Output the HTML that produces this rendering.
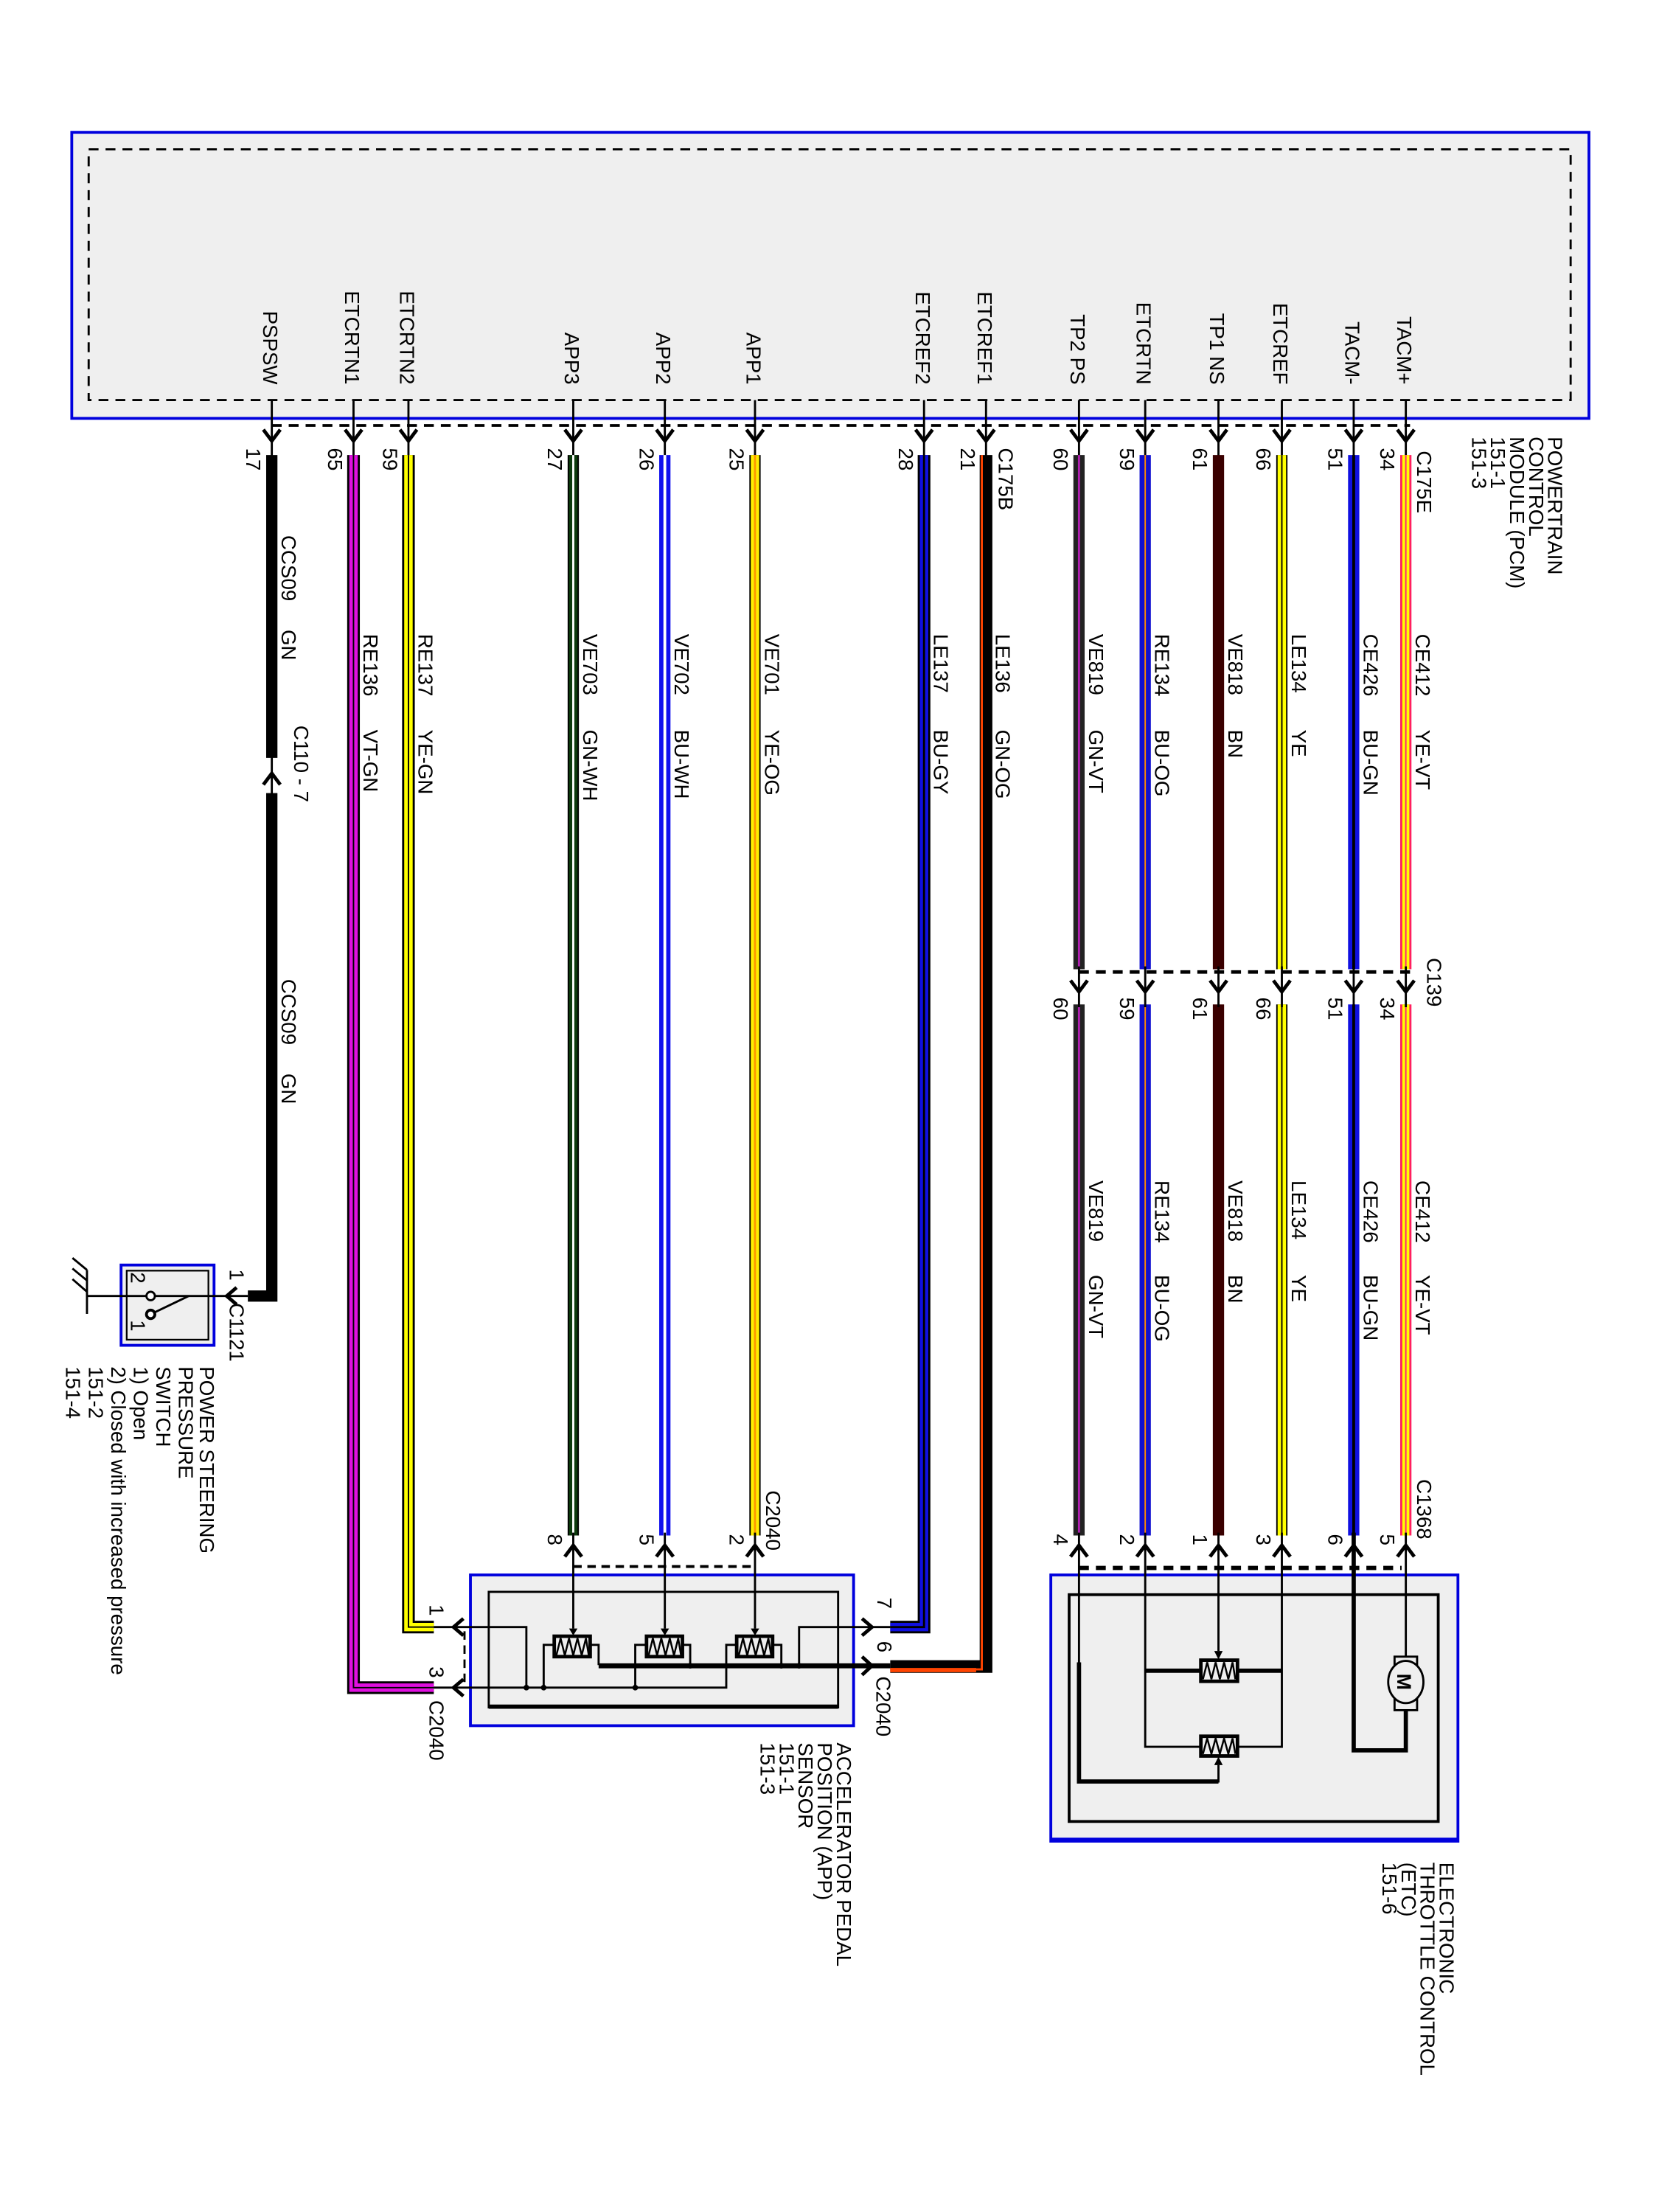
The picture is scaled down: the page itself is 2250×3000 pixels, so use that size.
<!DOCTYPE html>
<html><head><meta charset="utf-8"><style>
html,body{margin:0;padding:0;background:#fff;}
svg{display:block;}
text{font-family:"Liberation Sans",Arial,sans-serif;font-size:14.5px;fill:#000;}
</style></head><body>
<svg width="2250" height="3000" viewBox="0 0 1160 1546.67" xmlns="http://www.w3.org/2000/svg">
<g transform="translate(2.9,0) scale(0.985)">
<!-- PCM -->
<rect x="48" y="94" width="1077" height="203" fill="#efefef" stroke="#0000dd" stroke-width="2"/>
<rect x="60" y="106" width="1052" height="178" fill="none" stroke="#000" stroke-width="1.5" stroke-dasharray="7,5"/>
<line x1="190" y1="302" x2="998" y2="302" stroke="#000" stroke-width="2" stroke-dasharray="7,5"/>

<!-- PCM pin labels -->
<g text-anchor="end">
<text transform="translate(184,273) rotate(90)">PSPSW</text>
<text transform="translate(242,273) rotate(90)">ETCRTN1</text>
<text transform="translate(281,273) rotate(90)">ETCRTN2</text>
<text transform="translate(398,273) rotate(90)">APP3</text>
<text transform="translate(463,273) rotate(90)">APP2</text>
<text transform="translate(527,273) rotate(90)">APP1</text>
<text transform="translate(647,273) rotate(90)">ETCREF2</text>
<text transform="translate(691,273) rotate(90)">ETCREF1</text>
<text transform="translate(757,273) rotate(90)">TP2 PS</text>
<text transform="translate(804,273) rotate(90)">ETCRTN</text>
<text transform="translate(856,273) rotate(90)">TP1 NS</text>
<text transform="translate(901,273) rotate(90)">ETCREF</text>
<text transform="translate(952,273) rotate(90)">TACM-</text>
<text transform="translate(989,273) rotate(90)">TACM+</text>
</g>

<!-- thin pin lines + chevrons at PCM -->
<g stroke="#000" stroke-width="1.5" fill="none">
<path d="M190 284V325M248 284V325M287 284V325M404 284V325M469 284V325M533 284V325M653 284V325M697 284V325M763 284V325M810 284V325M862 284V325M907 284V325M958 284V325M995 284V325"/>
</g>
<g stroke="#000" stroke-width="2.5" fill="none" stroke-linejoin="miter">
<path d="M184 305L190 313L196 305M242 305L248 313L254 305M281 305L287 313L293 305M398 305L404 313L410 305M463 305L469 313L475 305M527 305L533 313L539 305M647 305L653 313L659 305M691 305L697 313L703 305M757 305L763 313L769 305M804 305L810 313L816 305M856 305L862 313L868 305M901 305L907 313L913 305M952 305L958 313L964 305M989 305L995 313L1001 305"/>
</g>

<!-- pin numbers at PCM -->
<g>
<text transform="translate(172,318) rotate(90)">17</text>
<text transform="translate(230,318) rotate(90)">65</text>
<text transform="translate(269,318) rotate(90)">59</text>
<text transform="translate(386,318) rotate(90)">27</text>
<text transform="translate(451,318) rotate(90)">26</text>
<text transform="translate(515,318) rotate(90)">25</text>
<text transform="translate(635,318) rotate(90)">28</text>
<text transform="translate(679,318) rotate(90)">21</text>
<text transform="translate(745,318) rotate(90)">60</text>
<text transform="translate(792,318) rotate(90)">59</text>
<text transform="translate(844,318) rotate(90)">61</text>
<text transform="translate(889,318) rotate(90)">66</text>
<text transform="translate(940,318) rotate(90)">51</text>
<text transform="translate(977,318) rotate(90)">34</text>
<text transform="translate(1003,320) rotate(90)">C175E</text>
<text transform="translate(706,318) rotate(90)">C175B</text>
</g>

<!-- PCM title -->
<g>
<text transform="translate(1096,310) rotate(90)">POWERTRAIN</text>
<text transform="translate(1082.5,310) rotate(90)">CONTROL</text>
<text transform="translate(1069,310) rotate(90)">MODULE (PCM)</text>
<text transform="translate(1055.5,310) rotate(90)">151-1</text>
<text transform="translate(1042,310) rotate(90)">151-3</text>
</g>

<!-- WIRES -->
<g fill="none" stroke-linejoin="miter" stroke-linecap="butt">
<!-- PSPSW -->
<path d="M190 323V538M190 563V920H173" stroke="#000" stroke-width="8"/>
<!-- ETCRTN1 -->
<path d="M248 323V1198H305" stroke="#000" stroke-width="9"/>
<path d="M248 323V1198H305" stroke="#e010e0" stroke-width="6"/>
<path d="M248 323V1198H305" stroke="#000" stroke-width="1"/>
<!-- ETCRTN2 -->
<path d="M287 323V1155H305" stroke="#000" stroke-width="9"/>
<path d="M287 323V1155H305" stroke="#ffff00" stroke-width="6"/>
<path d="M287 323V1155H305" stroke="#000" stroke-width="1"/>
<!-- APP3 -->
<path d="M404 323V1090" stroke="#000" stroke-width="8"/>
<path d="M404 323V1090" stroke="#0b3a0b" stroke-width="6"/>
<path d="M404 323V1090" stroke="#fff" stroke-width="1.5"/>
<!-- APP2 -->
<path d="M469 323V1090" stroke="#1010ee" stroke-width="8"/>
<path d="M469 323V1090" stroke="#fff" stroke-width="2"/>
<!-- APP1 -->
<path d="M533 323V1090" stroke="#000" stroke-width="8"/>
<path d="M533 323V1090" stroke="#ffee00" stroke-width="6"/>
<path d="M533 323V1090" stroke="#ff9900" stroke-width="1.5"/>
<!-- ETCREF2 -->
<path d="M653 323V1155H629" stroke="#000" stroke-width="9"/>
<path d="M653 323V1155H629" stroke="#1010e0" stroke-width="6"/>
<path d="M653 323V1155H629" stroke="#000" stroke-width="1.5"/>
<!-- ETCREF1 -->
<path d="M697 323V1183H629" stroke="#000" stroke-width="9"/>
<path d="M694 323V1185H629" stroke="#ff4400" stroke-width="1.5"/>
<path d="M690 1185.5H629" stroke="#ff4400" stroke-width="3"/>
<!-- right group -->
<path d="M763 323V688M763 713V1090" stroke="#222" stroke-width="8"/>
<path d="M763 323V688M763 713V1090" stroke="#b020b0" stroke-width="1.5"/>
<path d="M810 323V688M810 713V1090" stroke="#1010d0" stroke-width="8"/>
<path d="M810 323V688M810 713V1090" stroke="#ff8800" stroke-width="1"/>
<path d="M862 323V688M862 713V1090" stroke="#3a0000" stroke-width="8"/>
<path d="M907 323V688M907 713V1090" stroke="#000" stroke-width="8"/>
<path d="M907 323V688M907 713V1090" stroke="#ffff00" stroke-width="6"/>
<path d="M907 323V688M907 713V1090" stroke="#000" stroke-width="1"/>
<path d="M958 323V688M958 713V1090" stroke="#1010e0" stroke-width="8"/>
<path d="M958 323V688M958 713V1090" stroke="#000" stroke-width="2"/>
<path d="M995 323V688M995 713V1090" stroke="#ff2060" stroke-width="8"/>
<path d="M995 323V688M995 713V1090" stroke="#ffff00" stroke-width="5"/>
<path d="M995 323V688M995 713V1090" stroke="#ff2080" stroke-width="1"/>
</g>

<!-- C110 -->
<line x1="190" y1="536" x2="190" y2="565" stroke="#000" stroke-width="1.5"/>
<path d="M184 557L190 549L196 557" stroke="#000" stroke-width="2.5" fill="none"/>
<text transform="translate(206,515) rotate(90)">C110 - 7</text>

<!-- C139 -->
<line x1="763" y1="690" x2="998" y2="690" stroke="#000" stroke-width="2.5" stroke-dasharray="7,5"/>
<g stroke="#000" stroke-width="1.5"><path d="M763 686V715M810 686V715M862 686V715M907 686V715M958 686V715M995 686V715"/></g>
<g stroke="#000" stroke-width="2.5" fill="none"><path d="M757 696L763 704L769 696M804 696L810 704L816 696M856 696L862 704L868 696M901 696L907 704L913 696M952 696L958 704L964 696M989 696L995 704L1001 696"/></g>
<text transform="translate(1010,680) rotate(90)">C139</text>
<g>
<text transform="translate(745,708) rotate(90)">60</text>
<text transform="translate(792,708) rotate(90)">59</text>
<text transform="translate(844,708) rotate(90)">61</text>
<text transform="translate(889,708) rotate(90)">66</text>
<text transform="translate(940,708) rotate(90)">51</text>
<text transform="translate(977,708) rotate(90)">34</text>
</g>

<!-- wire labels -->
<g>
<text transform="translate(197,380) rotate(90)">CCS09</text>
<text transform="translate(197,447) rotate(90)">GN</text>
<text transform="translate(197,695) rotate(90)">CCS09</text>
<text transform="translate(197,762) rotate(90)">GN</text>
<text transform="translate(255,450) rotate(90)">RE136</text>
<text transform="translate(255,518) rotate(90)">VT-GN</text>
<text transform="translate(294,450) rotate(90)">RE137</text>
<text transform="translate(294,518) rotate(90)">YE-GN</text>
<text transform="translate(411,450) rotate(90)">VE703</text>
<text transform="translate(411,518) rotate(90)">GN-WH</text>
<text transform="translate(476,450) rotate(90)">VE702</text>
<text transform="translate(476,518) rotate(90)">BU-WH</text>
<text transform="translate(540,450) rotate(90)">VE701</text>
<text transform="translate(540,518) rotate(90)">YE-OG</text>
<text transform="translate(660,450) rotate(90)">LE137</text>
<text transform="translate(660,518) rotate(90)">BU-GY</text>
<text transform="translate(704,450) rotate(90)">LE136</text>
<text transform="translate(704,518) rotate(90)">GN-OG</text>
<text transform="translate(770,450) rotate(90)">VE819</text>
<text transform="translate(770,518) rotate(90)">GN-VT</text>
<text transform="translate(817,450) rotate(90)">RE134</text>
<text transform="translate(817,518) rotate(90)">BU-OG</text>
<text transform="translate(869,450) rotate(90)">VE818</text>
<text transform="translate(869,518) rotate(90)">BN</text>
<text transform="translate(914,450) rotate(90)">LE134</text>
<text transform="translate(914,518) rotate(90)">YE</text>
<text transform="translate(965,450) rotate(90)">CE426</text>
<text transform="translate(965,518) rotate(90)">BU-GN</text>
<text transform="translate(1002,450) rotate(90)">CE412</text>
<text transform="translate(1002,518) rotate(90)">YE-VT</text>
<text transform="translate(770,838) rotate(90)">VE819</text>
<text transform="translate(770,905) rotate(90)">GN-VT</text>
<text transform="translate(817,838) rotate(90)">RE134</text>
<text transform="translate(817,905) rotate(90)">BU-OG</text>
<text transform="translate(869,838) rotate(90)">VE818</text>
<text transform="translate(869,905) rotate(90)">BN</text>
<text transform="translate(914,838) rotate(90)">LE134</text>
<text transform="translate(914,905) rotate(90)">YE</text>
<text transform="translate(965,838) rotate(90)">CE426</text>
<text transform="translate(965,905) rotate(90)">BU-GN</text>
<text transform="translate(1002,838) rotate(90)">CE412</text>
<text transform="translate(1002,905) rotate(90)">YE-VT</text>
</g>

<!-- ETC component -->
<rect x="743" y="1118" width="289" height="189" fill="#efefef" stroke="#0000dd" stroke-width="2"/>
<line x1="743" y1="1306" x2="1032" y2="1306" stroke="#0000dd" stroke-width="3"/>
<rect x="756" y="1132" width="262" height="161" fill="none" stroke="#000" stroke-width="2"/>
<line x1="763" y1="1113" x2="992" y2="1113" stroke="#000" stroke-width="3" stroke-dasharray="7,5"/>
<g stroke="#000" stroke-width="1.5" fill="none">
<path d="M763 1088V1264.6H862V1253"/>
<path d="M810 1088V1240H849M876 1240H907V1088"/>
<path d="M862 1088V1172"/>
<path d="M995 1088V1176"/>
</g>
<g stroke="#000" stroke-width="3" fill="none">
<path d="M763 1180V1264.6H862"/>
<path d="M810 1186H849M876 1186H907"/>
<path d="M958 1088V1242.5H995V1214"/>
</g>
<g stroke="#000" stroke-width="2.5" fill="none"><path d="M757 1105L763 1097L769 1105M804 1105L810 1097L816 1105M856 1105L862 1097L868 1105M901 1105L907 1097L913 1105M952 1105L958 1097L964 1105M989 1105L995 1097L1001 1105"/></g>
<!-- resistors ETC -->
<g stroke="#000" fill="#efefef">
<rect x="849.5" y="1178.5" width="26" height="15" stroke-width="2.5"/>
<rect x="849.5" y="1232.5" width="26" height="14" stroke-width="2.5"/>
</g>
<g stroke="#000" stroke-width="1.3" fill="none">
<path d="M851 1192L854 1180L857 1192L860 1180L863 1192L866 1180L869 1192L872 1180L874 1192"/>
<path d="M851 1245L854 1234L857 1245L860 1234L863 1245L866 1234L869 1245L872 1234L874 1245"/>
</g>
<path d="M859 1172L865 1172L862 1178Z" fill="#000"/>
<path d="M859 1253L865 1253L862 1247Z" fill="#000"/>
<!-- motor -->
<rect x="987" y="1176" width="16" height="38" fill="#efefef" stroke="#000" stroke-width="1.5"/>
<ellipse cx="995" cy="1194" rx="12.5" ry="15" fill="#efefef" stroke="#000" stroke-width="1.5"/>
<text transform="translate(989,1188) rotate(90)" style="font-size:14px;font-weight:bold">M</text>
<!-- C1368 labels -->
<text transform="translate(1003,1050) rotate(90)">C1368</text>
<g text-anchor="end">
<text transform="translate(745,1097) rotate(90)">4</text>
<text transform="translate(792,1097) rotate(90)">2</text>
<text transform="translate(844,1097) rotate(90)">1</text>
<text transform="translate(889,1097) rotate(90)">3</text>
<text transform="translate(940,1097) rotate(90)">6</text>
<text transform="translate(977,1097) rotate(90)">5</text>
</g>
<g>
<text transform="translate(1019,1322) rotate(90)">ELECTRONIC</text>
<text transform="translate(1005.5,1322) rotate(90)">THROTTLE CONTROL</text>
<text transform="translate(992,1322) rotate(90)">(ETC)</text>
<text transform="translate(978.5,1322) rotate(90)">151-6</text>
</g>

<!-- APP component -->
<rect x="331" y="1118" width="272" height="107" fill="#efefef" stroke="#0000dd" stroke-width="2"/>
<rect x="344" y="1130" width="248" height="82" fill="none" stroke="#000" stroke-width="1.5"/>
<line x1="344" y1="1211.5" x2="592" y2="1211.5" stroke="#000" stroke-width="3"/>
<line x1="404" y1="1112" x2="533" y2="1112" stroke="#000" stroke-width="2" stroke-dasharray="6,4"/>
<g stroke="#000" stroke-width="2.5" fill="none"><path d="M398 1105L404 1097L410 1105M463 1105L469 1097L475 1105M527 1105L533 1097L539 1105"/></g>
<g stroke="#000" stroke-width="1.5" fill="none">
<path d="M404 1088V1156M469 1088V1156M533 1088V1156"/>
<path d="M305 1155H370.7V1198"/>
<path d="M305 1198H512.6V1167.6H520"/>
<path d="M383 1198V1167.6H390M416 1167.6H422V1182"/>
<path d="M448 1198V1167.6H456M482 1167.6H487V1182"/>
<path d="M546 1167.6H551.7V1182"/>
<path d="M629 1155H564.3V1182"/>
<path d="M326.8 1158V1196" stroke-dasharray="6,4"/>
</g>
<path d="M422 1182.5H629" stroke="#000" stroke-width="3.5"/>
<g fill="#000">
<circle cx="370.7" cy="1198" r="2"/><circle cx="383" cy="1198" r="2"/><circle cx="448" cy="1198" r="2"/>
<circle cx="487" cy="1182.5" r="2"/><circle cx="551.7" cy="1182.5" r="2"/><circle cx="564.3" cy="1182.5" r="2"/>
<path d="M401 1156L407 1156L404 1161Z"/><path d="M466 1156L472 1156L469 1161Z"/><path d="M530 1156L536 1156L533 1161Z"/>
</g>
<g stroke="#000" fill="#efefef" stroke-width="2.5">
<rect x="390.5" y="1161.5" width="25.5" height="14.5"/>
<rect x="456" y="1161.5" width="25.5" height="14.5"/>
<rect x="520" y="1161.5" width="25.5" height="14.5"/>
</g>
<g stroke="#000" stroke-width="1.3" fill="none">
<path d="M392 1175L395 1163L398 1175L401 1163L404 1175L407 1163L410 1175L413 1163L415 1175"/>
<path d="M457.5 1175L460.5 1163L463.5 1175L466.5 1163L469.5 1175L472.5 1163L475.5 1175L478.5 1163L480.5 1175"/>
<path d="M521.5 1175L524.5 1163L527.5 1175L530.5 1163L533.5 1175L536.5 1163L539.5 1175L542.5 1163L544.5 1175"/>
</g>
<!-- side chevrons -->
<g stroke="#000" stroke-width="2.5" fill="none">
<path d="M326 1149L319 1155L326 1161M326 1192L319 1198L326 1204"/>
<path d="M609 1149L616 1155L609 1161M609 1176L616 1182.5L609 1189"/>
</g>
<g>
<text transform="translate(541,1058) rotate(90)">C2040</text>
<text transform="translate(302,1139) rotate(90)">1</text>
<text transform="translate(302,1183) rotate(90)">3</text>
<text transform="translate(302,1207) rotate(90)">C2040</text>
<text transform="translate(620,1134) rotate(90)">7</text>
<text transform="translate(620,1165) rotate(90)">6</text>
<text transform="translate(619,1190) rotate(90)">C2040</text>
</g>
<g text-anchor="end">
<text transform="translate(386,1097) rotate(90)">8</text>
<text transform="translate(451,1097) rotate(90)">5</text>
<text transform="translate(515,1097) rotate(90)">2</text>
</g>
<g>
<text transform="translate(591,1237) rotate(90)">ACCELERATOR PEDAL</text>
<text transform="translate(577.5,1237) rotate(90)">POSITION (APP)</text>
<text transform="translate(564,1237) rotate(90)">SENSOR</text>
<text transform="translate(550.5,1237) rotate(90)">151-1</text>
<text transform="translate(537,1237) rotate(90)">151-3</text>
</g>

<!-- Power steering switch -->
<rect x="83" y="898" width="66" height="57" fill="#efefef" stroke="#0000dd" stroke-width="2"/>
<rect x="87" y="902" width="58" height="49" fill="none" stroke="#000" stroke-width="1.2"/>
<g stroke="#000" stroke-width="1.5" fill="none">
<path d="M58.8 920H101M107 920H173"/>
<path d="M106 932L131 920"/>
<path d="M58.8 901.5V932.7"/>
<path d="M48.5 893L58.8 901.5M48.5 900.5L58.8 909M48.5 908L58.8 917"/>
</g>
<circle cx="104" cy="920" r="3" fill="#fff" stroke="#000" stroke-width="1.5"/>
<circle cx="104" cy="933" r="3" fill="#fff" stroke="#000" stroke-width="2"/>
<path d="M165 914L158 920L165 926" stroke="#000" stroke-width="2.5" fill="none"/>
<text transform="translate(90,903) rotate(90)">2</text>
<text transform="translate(90,937) rotate(90)">1</text>
<text transform="translate(160,901) rotate(90)">1</text>
<text transform="translate(160,925) rotate(90)">C1121</text>
<g>
<text transform="translate(139,970) rotate(90)">POWER STEERING</text>
<text transform="translate(124,970) rotate(90)">PRESSURE</text>
<text transform="translate(108,970) rotate(90)">SWITCH</text>
<text transform="translate(92,970) rotate(90)">1) Open</text>
<text transform="translate(76,970) rotate(90)">2) Closed with increased pressure</text>
<text transform="translate(60,970) rotate(90)">151-2</text>
<text transform="translate(44,970) rotate(90)">151-4</text>
</g>
</g>
</svg>
</body></html>
